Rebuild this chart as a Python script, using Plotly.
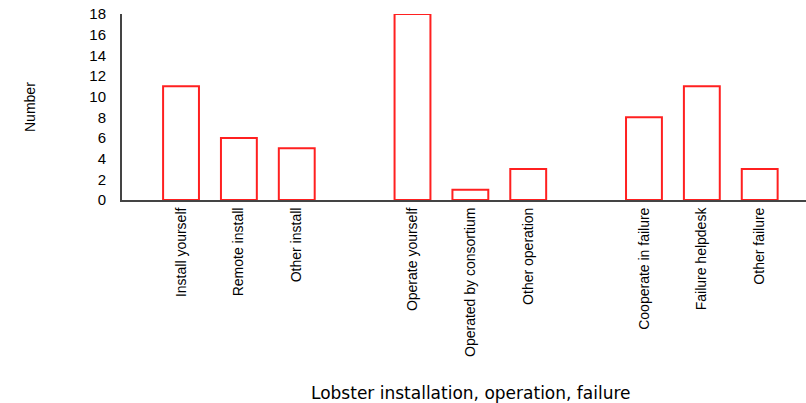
import plotly.graph_objects as go

categories = ["Install yourself", "Remote install", "Other install",
              "Operate yourself", "Operated by consortium", "Other operation",
              "Cooperate in failure", "Failure helpdesk", "Other failure"]
groups = [0, 0, 0, 1, 1, 1, 2, 2, 2]
values = [11, 6, 5, 18, 1, 3, 8, 11, 3]
y_ticks = [0, 2, 4, 6, 8, 10, 12, 14, 16, 18]

# position: index plus one empty slot between groups
positions = [i + g for i, g in enumerate(groups)]

fig = go.Figure(go.Bar(
    x=positions, y=values, width=0.62,
    marker=dict(color="white", line=dict(color="#ff2020", width=2)),
))

font_family = "Liberation Sans, Arial, sans-serif"
fig.update_layout(
    width=806, height=403,
    margin=dict(l=122, r=0, t=14, b=203),
    plot_bgcolor="white", paper_bgcolor="white",
    showlegend=False,
    font=dict(family=font_family, color="black", size=13),
    xaxis=dict(
        range=[-1.02, 10.8], tickmode="array", tickvals=positions, ticktext=categories,
        tickangle=-90, showgrid=False, zeroline=False, showline=True, automargin=False,
        linecolor="#444", linewidth=2, ticks="", tickfont=dict(size=14),
        ticklabeloverflow="allow",
    ),
    yaxis=dict(
        range=[0, 18], tickmode="array", tickvals=y_ticks, showgrid=False, automargin=False,
        zeroline=False, showline=True, linecolor="#444", linewidth=2, ticks="",
        ticklabelstandoff=11, tickfont=dict(size=15), ticklabeloverflow="allow",
    ),
    annotations=[
        dict(text="Lobster installation, operation, failure", xref="paper", yref="paper",
             x=0.51, y=-1.035, xanchor="center", yanchor="middle", showarrow=False,
             font=dict(size=17, family="DejaVu Sans, sans-serif")),
        dict(text="Number", xref="paper", yref="paper", x=-0.1345, y=0.5,
             xanchor="center", yanchor="middle", textangle=-90, showarrow=False,
             font=dict(size=14)),
    ],
)
fig.write_html("out.html", config={"displayModeBar": False},
               post_script="document.body.style.margin='0';document.body.style.overflow='hidden';")
